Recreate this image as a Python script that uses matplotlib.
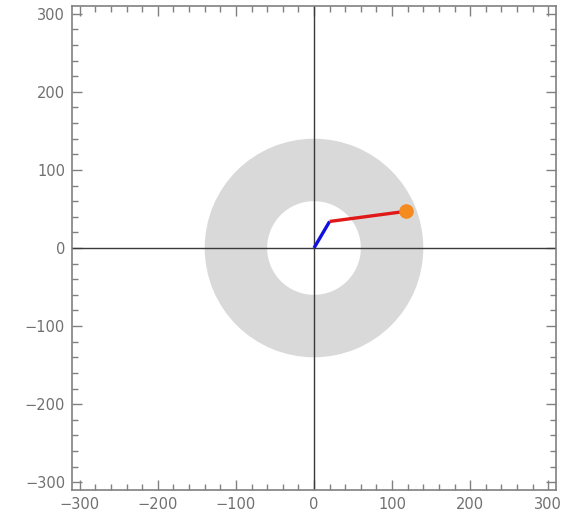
import matplotlib
matplotlib.use("Agg")
import matplotlib.pyplot as plt
from matplotlib.patches import Wedge
from matplotlib.ticker import MultipleLocator
import numpy as np

# data
inner_radius = 60
outer_radius = 140
arm1_x = [0, 20]
arm1_y = [0, 34]
arm2_x = [20, 118]
arm2_y = [34, 47]
end_point = (118, 47)
limit = 310
tick_values = [-300, -200, -100, 0, 100, 200, 300]

fig = plt.figure(figsize=(5.73, 5.22), dpi=100)
ax = fig.add_axes([72/573, 1-490/522, 484/573, 484/522])

ax.add_patch(Wedge((0, 0), outer_radius, 0, 360, width=outer_radius - inner_radius,
                   facecolor="#d9d9d9", edgecolor="none", zorder=1))
ax.axhline(0, color="#3a3a3a", lw=1.0, zorder=2)
ax.axvline(0, color="#3a3a3a", lw=1.0, zorder=2)
ax.plot(arm1_x, arm1_y, color="#1010e0", lw=2.4, solid_capstyle="butt", zorder=3)
ax.plot(arm2_x, arm2_y, color="#e01818", lw=2.4, solid_capstyle="butt", zorder=3)
ax.plot([end_point[0]], [end_point[1]], "o", color="#f58a1f", ms=9.5, zorder=4)

ax.set_xlim(-limit, limit)
ax.set_ylim(-limit, limit)
ax.set_xticks(tick_values)
ax.set_yticks(tick_values)
ax.xaxis.set_minor_locator(MultipleLocator(20))
ax.yaxis.set_minor_locator(MultipleLocator(20))
ax.tick_params(which="both", direction="in", top=True, right=True,
               color="#808080", labelcolor="#707070", labelsize=10.5, width=1.0)
ax.tick_params(which="major", length=7, pad=5)
ax.tick_params(which="minor", length=4)
for s in ax.spines.values():
    s.set_color("#808080")
    s.set_linewidth(1.2)

fig.savefig("out.png", dpi=100)
